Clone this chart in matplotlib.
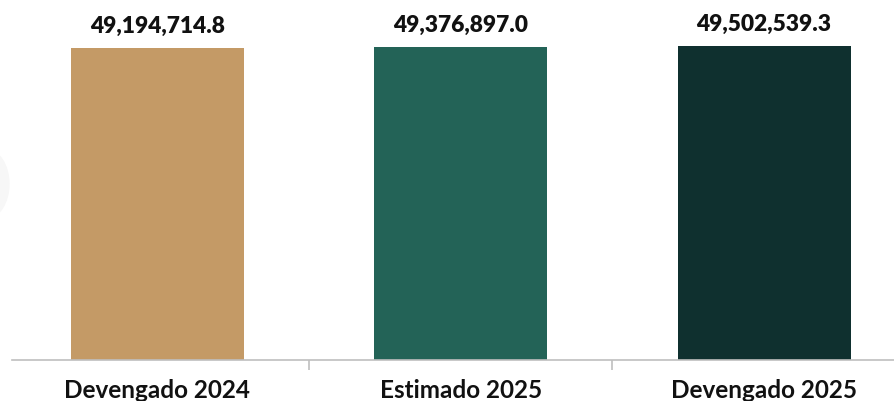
import matplotlib.pyplot as plt
from matplotlib.patches import Ellipse

# datos
categorias = ['Devengado 2024', 'Estimado 2025', 'Devengado 2025']
valores = [49194714.8, 49376897.0, 49502539.3]
colores = ['#C49A66', '#236357', '#0F302F']

plt.rcParams['font.family'] = ['Lato', 'DejaVu Sans']

fig = plt.figure(figsize=(8.94, 4.02), dpi=100)
ax = fig.add_axes([12 / 894, 41 / 402, 882 / 894, 361 / 402])

x = range(len(categorias))
ax.bar(x, valores, width=0.57, color=colores, zorder=2)

for xi, v in zip(x, valores):
    ax.annotate(f'{v:,.1f}', (xi, v), xytext=(0, 16), textcoords='offset points',
                ha='center', va='center', fontsize=16.4, fontweight='heavy', color='#111111')

ax.set_xlim(-0.478, 2.428)
ax.set_ylim(0, valores[0] * 361 / 312)

# ejes
for s in ['top', 'right', 'left']:
    ax.spines[s].set_visible(False)
ax.spines['bottom'].set_color('#BFBFBF')
ax.spines['bottom'].set_linewidth(1.2)
ax.set_yticks([])
ax.set_xticks(list(x))
ax.set_xticklabels(categorias, fontsize=17.5, fontweight='bold', color='#111111')
ax.tick_params(axis='x', which='major', length=0, pad=13)
ax.set_xticks([0.5, 1.5], minor=True)
ax.tick_params(axis='x', which='minor', length=7, color='#BFBFBF', width=1.2)

# marca de agua tenue
fig.patches.append(Ellipse((-0.015, 0.54), 0.05, 0.17, transform=fig.transFigure,
                           color='#F7F7F7', zorder=0))

fig.savefig('out.png', dpi=100)
